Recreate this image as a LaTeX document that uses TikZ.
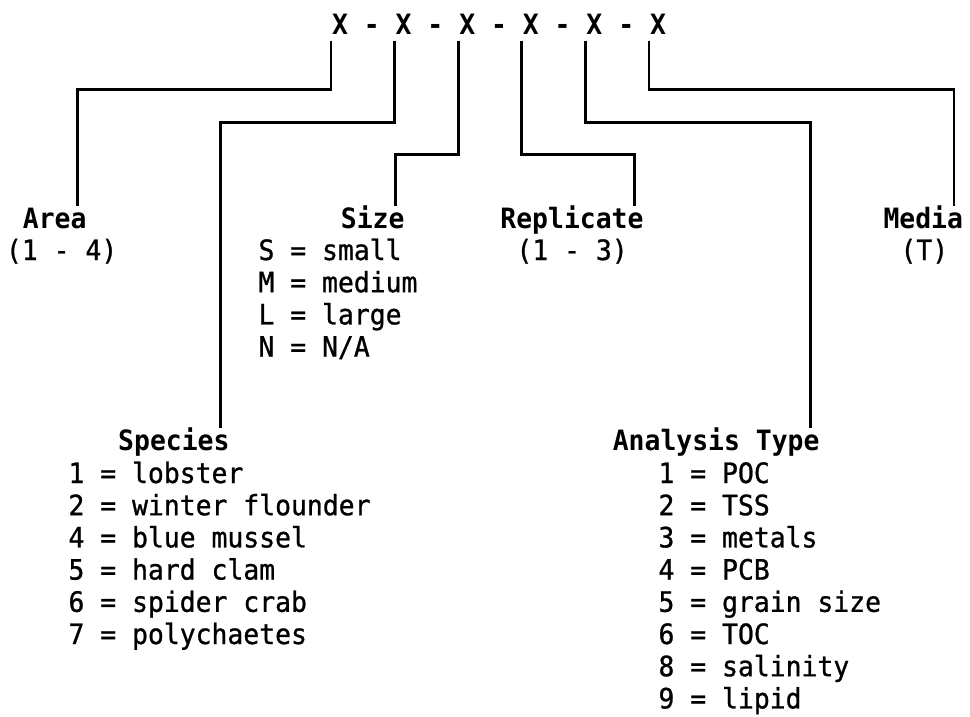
\documentclass[tikz,border=0pt]{standalone}
\usepackage{fontspec}
\newfontfamily\codefont[FakeStretch=0.943]{DejaVu Sans Mono}
\newfontfamily\itemfont[FakeStretch=0.943,FakeBold=0.9]{DejaVu Sans Mono}
\usetikzlibrary{calc}
\begin{document}
\begin{tikzpicture}[x=1pt,y=-1pt,
  txt/.style={inner sep=0pt,outer sep=0pt,font=\fontsize{28}{32.2}\selectfont\itemfont},
  bold/.style={inner sep=0pt,outer sep=0pt,font=\fontsize{28}{32.2}\selectfont\codefont\bfseries},
  ttl/.style={bold,anchor=base east},
  itm/.style={txt,anchor=base west},
  lead/.style={line width=2.7pt,line join=miter,line cap=butt}]
\fill[white] (0,0) rectangle (970,717);
\useasboundingbox (0,0) rectangle (970,717);
% code string
\foreach \i in {1,...,6}
  \node[bold,anchor=base] (x\i) at ({340+63.6*(\i-1)},35) {X};
\foreach \i in {1,...,5}
  \node[bold,anchor=base] (d\i) at ({371.8+63.6*(\i-1)},35) {-};
% titles and entries
\node[ttl] (area) at (86.5,228) {Area};
\node[itm] (arearange) at (6,260) {(1 - 4)};
\node[ttl] (size) at (404.5,228) {Size};
\foreach \t [count=\k] in {{S = small},{M = medium},{L = large},{N = N/A}}
  \node[itm] (size\k) at (258.5,{260+32.2*(\k-1)}) {\t};
\node[ttl] (repl) at (643.5,228) {Replicate};
\node[itm] (replrange) at (516.5,260) {(1 - 3)};
\node[ttl] (media) at (963,228) {Media};
\node[itm] (mediacode) at (900.5,260) {(T)};
\node[ttl] (species) at (229.5,450) {Species};
\foreach \t [count=\k] in {{1 = lobster},{2 = winter flounder},{4 = blue mussel},{5 = hard clam},{6 = spider crab},{7 = polychaetes}}
  \node[itm] (sp\k) at (68.5,{483+32.2*(\k-1)}) {\t};
\node[ttl] (anal) at (819.5,450) {Analysis Type};
\foreach \t [count=\k] in {{1 = POC},{2 = TSS},{3 = metals},{4 = PCB},{5 = grain size},{6 = TOC},{8 = salinity},{9 = lipid}}
  \node[itm] (an\k) at (658.5,{483+32.2*(\k-1)}) {\t};
% connector end points
\foreach \n in {area,size,repl,media,species,anal}
  \coordinate (\n T) at ([xshift=-9pt,yshift=22.5pt]\n.base east);
\foreach \i in {1,...,6}
  \coordinate (x\i S) at ([xshift=-9pt,yshift=-5.7pt]x\i.base);
% connectors
\draw[lead] (x1S) |- (areaT |- 0,89.3) -- (areaT);
\draw[lead] (x2S) |- (speciesT |- 0,122.7) -- (speciesT);
\draw[lead] (x3S) |- (sizeT |- 0,154.3) -- (sizeT);
\draw[lead] (x4S) |- (replT |- 0,154.3) -- (replT);
\draw[lead] (x5S) |- (analT |- 0,122.7) -- (analT);
\draw[lead] (x6S) |- (mediaT |- 0,89.3) -- (mediaT);
\end{tikzpicture}
\end{document}
